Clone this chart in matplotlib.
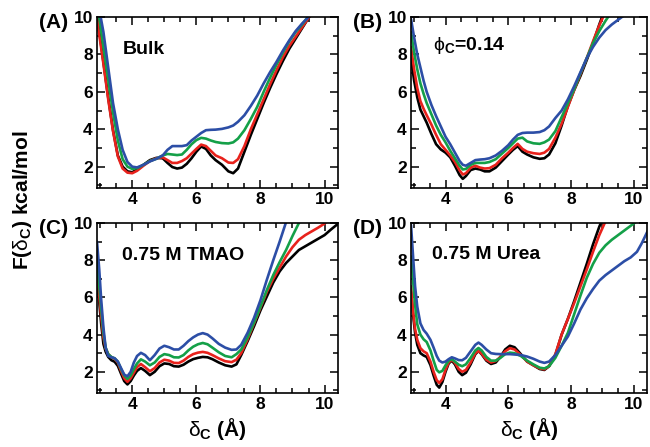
import matplotlib
matplotlib.use("Agg")
import matplotlib.pyplot as plt
from matplotlib.ticker import MultipleLocator

plt.rcParams['font.family'] = ['Liberation Sans', 'DejaVu Sans']
plt.rcParams['mathtext.fontset'] = 'custom'
plt.rcParams['mathtext.rm'] = 'Liberation Sans'
plt.rcParams['mathtext.bf'] = 'Liberation Sans:bold'
plt.rcParams['mathtext.it'] = 'Liberation Sans:italic'

# ---------------- data ----------------
series_colors = ['#000000', '#e8221c', '#14a048', '#2c4ea6']

xA = [2.9, 2.95, 3.1, 3.25, 3.4, 3.55, 3.7, 3.85, 4.0, 4.15, 4.35, 4.55, 4.75, 4.95, 5.1, 5.25,
      5.4, 5.55, 5.7, 5.85, 6.0, 6.15, 6.3, 6.45, 6.6, 6.8, 7.0, 7.15, 7.3, 7.5, 7.7, 7.9,
      8.1, 8.3, 8.5, 8.7, 8.9, 9.1, 9.3, 9.5, 9.7]
A_black = [10.2, 9.5, 7.6, 5.7, 3.95, 2.6, 2.0, 1.75, 1.7, 1.85, 2.1, 2.35, 2.47, 2.45, 2.2, 1.98,
           1.9, 1.95, 2.15, 2.45, 2.8, 3.08, 2.95, 2.6, 2.35, 2.1, 1.75, 1.65, 1.9, 2.8, 3.7, 4.55,
           5.4, 6.2, 6.95, 7.65, 8.3, 8.85, 9.4, 9.95, 10.4]
A_red = [10.0, 9.3, 7.5, 5.6, 3.9, 2.55, 1.9, 1.68, 1.65, 1.78, 2.05, 2.3, 2.45, 2.5, 2.35, 2.2,
         2.2, 2.3, 2.45, 2.7, 2.95, 3.18, 3.1, 2.85, 2.6, 2.45, 2.22, 2.2, 2.4, 3.1, 4.0, 4.8,
         5.6, 6.4, 7.15, 7.85, 8.45, 8.95, 9.45, 9.95, 10.4]
A_green = [10.8, 10.2, 8.4, 6.65, 4.9, 3.4, 2.4, 2.0, 1.88, 1.92, 2.1, 2.3, 2.42, 2.6, 2.68, 2.65,
           2.62, 2.65, 2.9, 3.2, 3.42, 3.54, 3.5, 3.4, 3.32, 3.26, 3.24, 3.3, 3.5, 3.95, 4.55, 5.2,
           6.0, 6.75, 7.45, 8.1, 8.7, 9.2, 9.6, 10.05, 10.4]
A_blue = [11.2, 10.6, 9.2, 7.3, 5.4, 4.0, 2.9, 2.25, 2.0, 1.96, 2.1, 2.28, 2.42, 2.6, 2.9, 3.1,
          3.1, 3.1, 3.15, 3.4, 3.6, 3.8, 3.95, 3.97, 3.98, 4.02, 4.1, 4.2, 4.4, 4.75, 5.25, 5.8,
          6.45, 7.05, 7.6, 8.2, 8.75, 9.25, 9.65, 10.0, 10.4]

xB = [2.9, 3.0, 3.1, 3.2, 3.3, 3.4, 3.55, 3.7, 3.85, 4.0, 4.15, 4.3, 4.45, 4.55, 4.65, 4.8,
      4.95, 5.1, 5.25, 5.4, 5.6, 5.8, 6.0, 6.15, 6.3, 6.45, 6.6, 6.8, 7.0, 7.15, 7.3, 7.5,
      7.7, 7.9, 8.1, 8.3, 8.5, 8.7, 8.9, 9.1, 9.3, 9.5, 9.7, 9.9]
B_black = [7.8, 6.6, 5.7, 5.05, 4.7, 4.35, 3.75, 3.2, 2.92, 2.75, 2.5, 2.05, 1.55, 1.35, 1.5, 1.82,
           1.9, 1.85, 1.75, 1.75, 1.95, 2.3, 2.65, 2.9, 3.1, 2.8, 2.65, 2.5, 2.42, 2.45, 2.65, 3.25,
           4.2, 5.25, 6.1, 6.85, 7.7, 8.6, 9.6, 10.5, 11.0, 11.5, 12.0, 12.5]
B_red = [8.4, 7.2, 6.2, 5.5, 5.1, 4.75, 4.25, 3.7, 3.2, 2.9, 2.6, 2.25, 1.8, 1.58, 1.65, 1.95,
         2.05, 1.95, 1.9, 1.92, 2.1, 2.45, 2.75, 3.0, 3.22, 2.95, 2.8, 2.72, 2.68, 2.75, 2.95, 3.55,
         4.3, 5.2, 6.1, 6.95, 7.8, 8.7, 9.55, 10.3, 11.0, 11.5, 12.0, 12.5]
B_green = [9.2, 8.1, 7.2, 6.45, 5.9, 5.4, 4.8, 4.2, 3.7, 3.3, 2.85, 2.45, 2.05, 1.85, 1.88, 2.1,
           2.2, 2.2, 2.2, 2.25, 2.4, 2.7, 3.0, 3.25, 3.5, 3.55, 3.35, 3.25, 3.22, 3.3, 3.45, 3.9,
           4.65, 5.4, 6.15, 7.0, 7.8, 8.6, 9.25, 9.8, 10.3, 10.8, 11.2, 11.6]
B_blue = [9.9, 8.9, 8.0, 7.3, 6.6, 6.0, 5.3, 4.7, 4.15, 3.6, 3.2, 2.75, 2.3, 2.1, 2.05, 2.2,
          2.35, 2.38, 2.4, 2.45, 2.6, 2.85, 3.15, 3.45, 3.7, 3.8, 3.82, 3.82, 3.85, 3.95, 4.15, 4.6,
          5.0, 5.6, 6.3, 7.05, 7.8, 8.4, 8.9, 9.3, 9.6, 9.85, 10.1, 10.4]

xC = [2.9, 2.97, 3.03, 3.1, 3.17, 3.25, 3.35, 3.45, 3.55, 3.65, 3.75, 3.85, 3.95, 4.05, 4.15,
      4.27, 4.4, 4.55, 4.7, 4.85, 5.0, 5.15, 5.3, 5.45, 5.6, 5.75, 5.9, 6.05, 6.2, 6.35, 6.5,
      6.7, 6.9, 7.1, 7.25, 7.4, 7.6, 7.8, 8.0, 8.2, 8.4, 8.6, 8.8, 9.0, 9.2, 9.4, 9.6, 9.8,
      10.0, 10.2, 10.45]
C_black = [6.9, 5.75, 4.6, 3.5, 3.08, 2.8, 2.62, 2.54, 2.32, 1.9, 1.5, 1.32, 1.5, 1.8, 2.05,
           2.2, 2.05, 1.82, 2.0, 2.3, 2.45, 2.42, 2.3, 2.28, 2.38, 2.55, 2.68, 2.75, 2.8, 2.78, 2.68,
           2.5, 2.35, 2.28, 2.4, 2.9, 3.65, 4.45, 5.3, 6.05, 6.8, 7.4, 7.85, 8.2, 8.55, 8.75, 8.95, 9.15,
           9.35, 9.65, 10.0]
C_red = [7.2, 6.1, 5.0, 3.85, 3.25, 2.95, 2.78, 2.7, 2.5, 2.05, 1.65, 1.46, 1.65, 1.95, 2.25,
         2.42, 2.25, 2.03, 2.2, 2.5, 2.65, 2.6, 2.48, 2.47, 2.6, 2.8, 2.95, 3.03, 3.07, 3.02, 2.9,
         2.72, 2.57, 2.52, 2.65, 3.0, 3.75, 4.6, 5.45, 6.3, 7.0, 7.6, 8.2, 8.7, 9.1, 9.35, 9.55, 9.75,
         9.97, 10.3, 10.7]
C_green = [7.9, 6.63, 5.4, 4.1, 3.3, 2.95, 2.8, 2.72, 2.55, 2.15, 1.8, 1.62, 1.8, 2.15, 2.45,
           2.67, 2.55, 2.35, 2.5, 2.8, 2.95, 2.9, 2.78, 2.77, 2.9, 3.15, 3.35, 3.48, 3.55, 3.48, 3.3,
           3.05, 2.85, 2.78, 2.95, 3.2, 3.85, 4.65, 5.5, 6.4, 7.2, 7.9, 8.55, 9.3, 10.0, 10.6, 11.0, 11.4,
           11.8, 12.2, 12.6]
C_blue = [9.0, 7.5, 5.9, 4.4, 3.3, 2.85, 2.78, 2.73, 2.55, 2.2, 1.85, 1.76, 2.0, 2.5, 2.85,
          3.02, 2.9, 2.62, 2.9, 3.25, 3.4, 3.32, 3.2, 3.2, 3.4, 3.65, 3.85, 4.0, 4.08, 4.0, 3.8,
          3.5, 3.3, 3.18, 3.2, 3.45, 4.1, 4.9, 5.85, 6.95, 8.0, 9.0, 10.05, 11.0, 11.8, 12.5, 13.0, 13.5,
          14.0, 14.5, 15.0]

xD = [2.9, 2.97, 3.03, 3.1, 3.2, 3.3, 3.4, 3.52, 3.62, 3.72, 3.8, 3.9, 4.0, 4.1, 4.2, 4.3,
      4.42, 4.53, 4.65, 4.8, 4.95, 5.05, 5.15, 5.3, 5.45, 5.6, 5.75, 5.9, 6.05, 6.2, 6.4, 6.6,
      6.8, 7.0, 7.15, 7.3, 7.5, 7.7, 7.9, 8.1, 8.3, 8.5, 8.7, 8.9, 9.1, 9.3, 9.5, 9.7, 9.9,
      10.1, 10.25, 10.45]
D_black = [6.3, 5.0, 4.1, 3.45, 3.0, 2.88, 2.8, 2.36, 1.8, 1.3, 1.15, 1.45, 2.0, 2.45, 2.6, 2.4,
           2.0, 1.82, 1.95, 2.4, 2.95, 3.12, 2.95, 2.6, 2.42, 2.5, 2.8, 3.2, 3.4, 3.32, 2.95, 2.55,
           2.35, 2.15, 2.1, 2.3, 2.9, 4.0, 4.85, 5.8, 6.8, 7.8, 8.85, 9.8, 10.6, 11.2, 11.8, 12.4, 13.0,
           13.6, 14.0, 14.6]
D_red = [6.6, 5.2, 4.3, 3.72, 3.27, 3.1, 3.0, 2.55, 2.0, 1.55, 1.4, 1.6, 2.1, 2.5, 2.65, 2.48,
         2.15, 2.0, 2.1, 2.5, 3.0, 3.12, 2.98, 2.65, 2.5, 2.58, 2.8, 3.1, 3.27, 3.2, 2.9, 2.55,
         2.35, 2.18, 2.13, 2.3, 2.95, 4.0, 4.85, 5.7, 6.6, 7.5, 8.45, 9.35, 10.1, 10.8, 11.4, 12.0, 12.6,
         13.2, 13.6, 14.2]
D_green = [8.2, 6.8, 5.6, 4.55, 4.0, 3.75, 3.6, 3.15, 2.6, 2.1, 1.97, 2.05, 2.35, 2.6, 2.68, 2.55,
           2.38, 2.3, 2.4, 2.75, 3.15, 3.28, 3.15, 2.8, 2.6, 2.6, 2.75, 2.95, 3.03, 3.0, 2.85, 2.6,
           2.4, 2.22, 2.18, 2.3, 2.75, 3.4, 4.1, 5.1, 6.1, 7.05, 7.8, 8.4, 8.8, 9.1, 9.35, 9.6, 9.85,
           10.1, 10.3, 10.6]
D_blue = [9.9, 8.1, 6.6, 5.5, 4.6, 4.25, 4.05, 3.72, 3.3, 2.85, 2.6, 2.5, 2.55, 2.68, 2.78, 2.72,
          2.63, 2.62, 2.75, 3.1, 3.45, 3.57, 3.45, 3.2, 3.0, 2.96, 2.95, 2.95, 2.95, 2.93, 2.9, 2.82,
          2.7, 2.55, 2.48, 2.55, 2.9, 3.4, 3.9, 4.6, 5.35, 5.95, 6.45, 6.9, 7.2, 7.45, 7.7, 7.95, 8.15,
          8.45, 8.9, 9.6]

panel_tags = ['(A)', '(B)', '(C)', '(D)']
panel_titles = ['Bulk', r'$\mathrm{\phi}_\mathbf{C}$=0.14', '0.75 M TMAO', '0.75 M Urea']
x_ticks = [4, 6, 8, 10]
y_ticks = [2, 4, 6, 8, 10]
x_label = r'$\mathrm{\delta}_\mathbf{C}$ (Å)'
y_label = r'F($\mathrm{\delta}_\mathbf{C}$) kcal/mol'

panels = [
    (xA, [A_black, A_red, A_green, A_blue]),
    (xB, [B_black, B_red, B_green, B_blue]),
    (xC, [C_black, C_red, C_green, C_blue]),
    (xD, [D_black, D_red, D_green, D_blue]),
]
title_pos = [(3.69, 8.24), (3.6, 8.45), (3.69, 8.26), (3.58, 8.32)]

# ---------------- figure ----------------
W, H = 650, 447
fig = plt.figure(figsize=(W / 100, H / 100), dpi=100)

boxes = [(97, 17, 338, 188), (411, 17, 647, 188), (97, 223, 338, 393), (411, 223, 647, 393)]

for i, ((xs, ys), (l, t, r, b)) in enumerate(zip(panels, boxes)):
    ax = fig.add_axes([l / W, 1 - b / H, (r - l) / W, (b - t) / H])
    for y, c in zip(ys, series_colors):
        ax.plot(xs, y, color=c, lw=1.9, solid_capstyle='round', solid_joinstyle='round')
    ax.set_xlim(2.9, 10.42)
    ax.set_ylim(0.86, 10)
    ax.set_xticks(x_ticks)
    ax.set_yticks(y_ticks)
    ax.xaxis.set_minor_locator(MultipleLocator(0.5))
    ax.yaxis.set_minor_locator(MultipleLocator(1))
    ax.tick_params(which='both', direction='in', top=True, right=True, width=1.1,
                   labelsize=12.5, pad=3)
    ax.tick_params(which='major', length=6)
    ax.tick_params(which='minor', length=3.5)
    for lab in ax.get_xticklabels() + ax.get_yticklabels():
        lab.set_fontweight('bold')
    for s in ax.spines.values():
        s.set_linewidth(1.2)
    tx, ty = title_pos[i]
    ax.text(tx, ty, panel_titles[i], fontsize=14, fontweight='bold', va='center', ha='left')
    fig.text((l - 29) / W, 1 - (t + 5) / H, panel_tags[i], fontsize=15, fontweight='bold',
             ha='right', va='center')
    if i >= 2:
        ax.set_xlabel(x_label, fontsize=15, fontweight='bold', labelpad=3)

fig.text(22 / W, 1 - 200 / H, y_label, rotation=90, fontsize=15, fontweight='bold',
         ha='center', va='center')

fig.savefig('out.png', dpi=100)
